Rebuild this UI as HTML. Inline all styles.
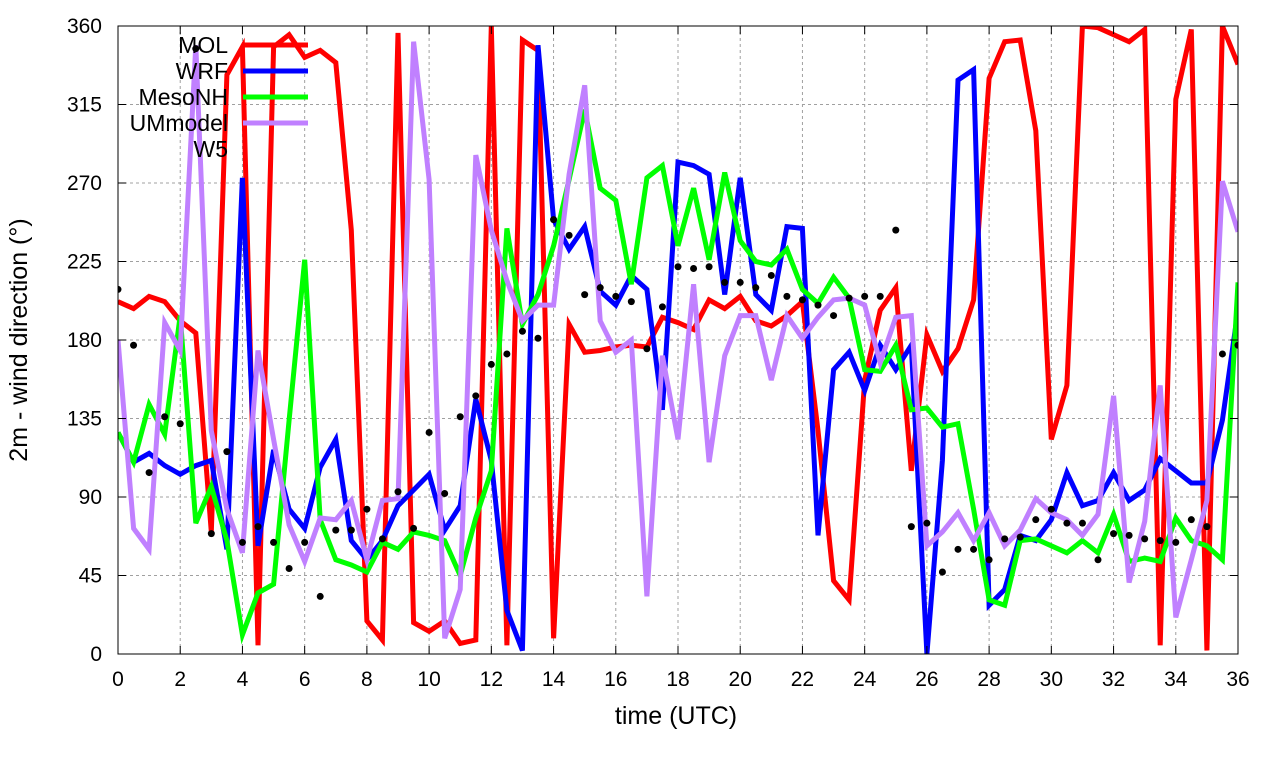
<!DOCTYPE html>
<html><head><meta charset="utf-8"><style>
body{margin:0;background:#fff;}
svg{display:block;font-family:"Liberation Sans",sans-serif;}
</style></head><body>
<svg id="chart" width="1280" height="760" xmlns="http://www.w3.org/2000/svg">
<defs><clipPath id="plotclip"><rect x="118" y="26" width="1120" height="628"/></clipPath></defs>
<g id="grid"></g>
<g id="series" clip-path="url(#plotclip)"></g>
<rect x="118" y="26" width="1120" height="628" fill="none" stroke="#000" stroke-width="1"/>
<g id="ticks"></g>
<text x="676" y="724" font-size="25" text-anchor="middle">time (UTC)</text>
<text transform="translate(27,340) rotate(-90)" font-size="25" text-anchor="middle">2m - wind direction (°)</text>
<g id="legend"></g>
</svg>
<script>
const xTicks=[0,2,4,6,8,10,12,14,16,18,20,22,24,26,28,30,32,34,36];
const yTicks=[0,45,90,135,180,225,270,315,360];
const seriesNames=["MOL","WRF","MesoNH","UMmodel"];
const seriesColors=["#ff0000","#0000ff","#00ff00","#c080ff"];
const mol=[202,198,205,202,191,184,70,332,348,5,348,355,342,346,339,243,19,8,356,18,13,19,6,8,360,5,352,346,9,189,173,174,176,177,176,193,190,186,203,198,205,191,188,194,202,128,42,31,157,197,210,105,183,162,175,203,330,351,352,300,123,154,360,359,355,351,358,5,318,358,2,360,338];
const wrf=[127,110,115,108,103,108,111,60,273,62,117,83,72,107,123,65,54,65,85,94,103,71,85,146,111,25,2,349,249,232,245,208,200,217,209,140,282,280,275,206,273,206,197,245,244,68,163,173,151,177,163,177,0,111,329,335,28,37,68,65,77,104,85,88,104,88,94,112,105,98,98,134,197];
const mesonh=[127,110,143,126,194,75,96,65,11,35,40,134,226,77,54,51,47,64,60,70,68,65,45,78,105,244,189,206,234,272,312,267,260,212,273,280,234,267,226,276,237,225,223,232,209,201,216,204,163,162,177,140,141,130,132,83,31,28,65,66,62,58,65,58,80,53,55,53,78,65,62,54,213];
const ummodel=[180,72,60,190,174,349,128,83,58,174,123,74,53,78,77,88,54,88,89,351,272,9,37,286,243,214,191,200,200,275,326,191,173,180,33,171,123,212,110,171,194,194,157,194,181,193,203,204,200,167,193,194,62,70,81,65,81,62,71,89,81,77,68,80,148,41,76,154,21,54,88,271,242];
const w5=[209,177,104,136,132,347,69,116,64,73,64,49,64,33,71,71,83,66,93,72,127,92,136,148,166,172,185,181,249,240,206,210,205,202,175,199,222,221,222,213,213,210,217,205,203,200,194,204,205,205,243,73,75,47,60,60,54,66,67,77,83,75,75,54,69,68,66,65,64,77,73,172,177];
const allSeries=[mol,wrf,mesonh,ummodel];
const NS="http://www.w3.org/2000/svg";
const X0=118,X1=1238,Y0=654,Y1=26;
function xs(t){return X0+(t/36)*(X1-X0);}
function ys(v){return Y0-(v/360)*(Y0-Y1);}
function mk(tag,attrs,parent){const e=document.createElementNS(NS,tag);for(const k in attrs)e.setAttribute(k,attrs[k]);parent.appendChild(e);return e;}
const grid=document.getElementById('grid'),ticks=document.getElementById('ticks'),ser=document.getElementById('series'),leg=document.getElementById('legend');
xTicks.forEach(t=>{
  const x=xs(t);
  if(t>0&&t<36){const l=mk('line',{x1:x,x2:x,y1:Y1,y2:Y0,stroke:'#a0a0a0','stroke-dasharray':'3,3','stroke-width':1},grid);
  
  }
  const tk=mk('line',{x1:x,x2:x,y1:Y0,y2:Y0-8,stroke:'#000'},ticks);
  
  
  const tk2=mk('line',{x1:x,x2:x,y1:Y1,y2:Y1+8,stroke:'#000'},ticks);
  
  
  const tx=mk('text',{x:x,y:686,'font-size':21,'text-anchor':'middle'},ticks);tx.textContent=t;
  
  
});
yTicks.forEach(v=>{
  const y=ys(v);
  if(v>0&&v<360){const l=mk('line',{x1:X0,x2:X1,y1:y,y2:y,stroke:'#a0a0a0','stroke-dasharray':'3,3','stroke-width':1},grid);
  
  }
  const tk=mk('line',{x1:X0,x2:X0+8,y1:y,y2:y,stroke:'#000'},ticks);
  
  
  const tk2=mk('line',{x1:X1,x2:X1-8,y1:y,y2:y,stroke:'#000'},ticks);
  
  
  const tx=mk('text',{x:102,y:y+7,'font-size':21,'text-anchor':'end'},ticks);tx.textContent=v;
  
  
});
allSeries.forEach((arr,i)=>{
  const pts=arr.map((v,j)=>xs(j*0.5).toFixed(1)+','+ys(v).toFixed(1)).join(' ');
  const p=mk('polyline',{points:pts,fill:'none',stroke:seriesColors[i],'stroke-width':5,'stroke-linejoin':'miter'},ser);
  
  
});
w5.forEach((v,j)=>{
  const c=mk('circle',{cx:xs(j*0.5),cy:ys(v),r:3.5,fill:'#000'},ser);
  
  
});
seriesNames.forEach((n,i)=>{
  const y=45+i*26;
  const t=mk('text',{x:228,y:y+8,'font-size':23,'text-anchor':'end'},leg);t.textContent=n;
  
  
  const l=mk('line',{x1:243,x2:308,y1:y,y2:y,stroke:seriesColors[i],'stroke-width':5},leg);
  
  
});
const w5t=mk('text',{x:228,y:157,'font-size':23,'text-anchor':'end'},leg);w5t.textContent='W5';


</script>
</body></html>
